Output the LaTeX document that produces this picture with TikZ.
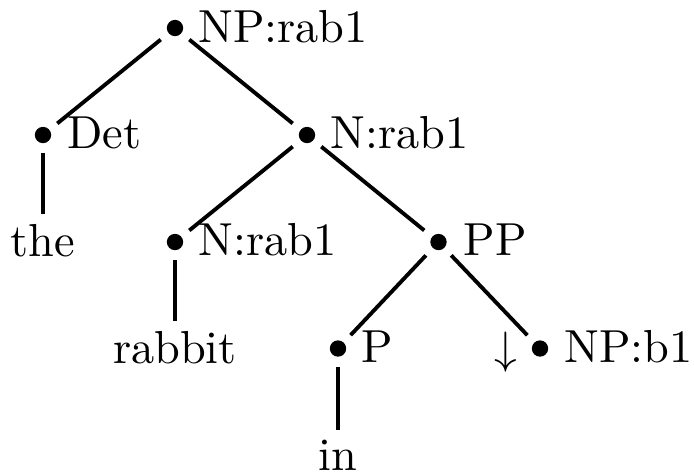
\documentclass[tikz,border=0pt]{standalone}
\begin{document}
\begin{tikzpicture}[x=0.2203pt,y=-0.2203pt,
  every node/.style={font=\fontsize{10.2}{12}\selectfont},
  dot/.style={circle, fill=black, inner sep=0pt, minimum size=3.6pt, outer sep=2.25pt},
  lab/.style={anchor=base west, inner sep=0pt},
  leaf/.style={anchor=base, inner sep=2.0pt},
  edge/.style={line width=0.85pt}]
\useasboundingbox (0,0) rectangle (694,473);
\node[dot] (np) at (175,28) {};
\node[lab] (npl) at (197.5,42) {NP:rab1};
\node[dot] (det) at (43,135) {};
\node[lab] (detl) at (66.5,148) {Det};
\node[dot] (n2) at (307,135) {};
\node[lab] (n2l) at (330,148) {N:rab1};
\node[leaf] (the) at (43,256.5) {the};
\node[dot] (n3) at (175,242) {};
\node[lab] (n3l) at (198,255) {N:rab1};
\node[dot] (pp) at (438.5,242) {};
\node[lab] (ppl) at (463,255) {PP};
\node[leaf] (rabbit) at (175,363) {rabbit};
\node[dot] (p) at (338,348.5) {};
\node[lab] (pl) at (361,362.5) {P};
\node[anchor=base, inner sep=0pt] (arr) at (506,363) {$\downarrow$};
\node[dot] (npb) at (540,348.5) {};
\node[lab] (npbl) at (563.5,362.5) {NP:b1};
\node[leaf] (in) at (338,470) {in};
\draw[edge] (np) -- (det);
\draw[edge] (np) -- (n2);
\draw[edge] (det) -- (the);
\draw[edge] (n2) -- (n3);
\draw[edge] (n2) -- (pp);
\draw[edge] (n3) -- (rabbit);
\draw[edge] (pp) -- (p);
\draw[edge] (pp) -- (npb);
\draw[edge] (p) -- (in);
\end{tikzpicture}
\end{document}
